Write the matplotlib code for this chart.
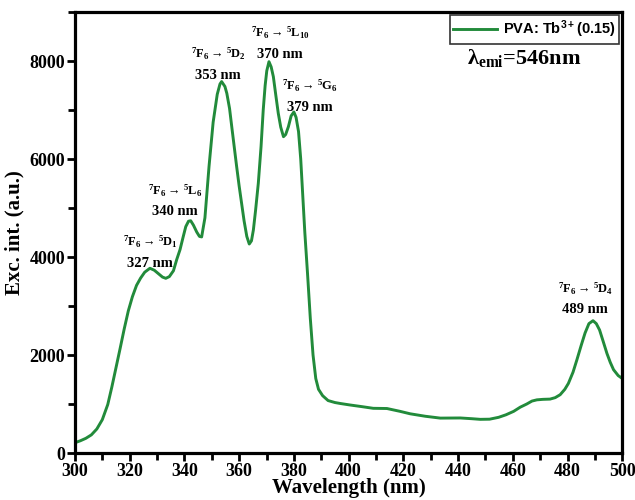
import matplotlib
matplotlib.use('Agg')
import matplotlib.pyplot as plt
from matplotlib.ticker import MultipleLocator

plt.rcParams['font.family'] = ['Liberation Serif', 'DejaVu Serif']
plt.rcParams['font.weight'] = 'bold'
plt.rcParams['mathtext.default'] = 'regular'

# excitation spectrum
wavelength = [300, 302, 304, 306, 308, 310, 312, 313.5, 315, 316.5, 318, 319.5, 321,
              322.5, 324, 325.5, 327.4, 329, 330.5, 332, 333.2, 334.5, 336, 337.2,
              338.4, 339.5, 340.5, 341.5, 342.3, 343.3, 344.5, 345.5, 346.3, 347.5,
              349, 350.5, 352, 353, 353.6, 354.8, 355.5, 356.5, 357.3, 358.2, 359.1,
              360, 360.9, 361.8, 362.8, 363.7, 364.5, 365.2, 366, 367, 368, 368.8,
              369.5, 370.1, 370.9, 371.7, 372.5, 373.4, 374.3, 375.2, 376.2, 377,
              378, 379, 380, 380.8, 381.7, 382.5, 383.3, 384, 385, 386, 387, 388,
              389, 390.5, 392.5, 395, 397, 400.5, 405, 409, 414, 418.8, 422.5, 428,
              433.5, 440.8, 445, 448.1, 451.5, 454.8, 457.5, 460.3, 462.7, 465.1,
              467, 468.8, 471, 473.6, 475.5, 477.3, 479, 480.3, 482, 483.4, 485,
              486.4, 487.8, 489.3, 490.5, 491.7, 493, 494.4, 495.6, 496.8, 498.5, 500]
intensity = [210, 250, 300, 370, 490, 680, 990, 1350, 1740, 2130, 2530, 2900, 3190,
             3420, 3570, 3690, 3770, 3730, 3660, 3590, 3565, 3600, 3720, 3950,
             4150, 4400, 4620, 4730, 4740, 4650, 4510, 4420, 4410, 4800,
             5850, 6750, 7320, 7530, 7580, 7480, 7340, 7030, 6660, 6250, 5840,
             5450, 5095, 4740, 4420, 4265, 4330, 4551, 4950, 5503, 6250, 7000,
             7500, 7800, 7986, 7880, 7680, 7300, 6932, 6650, 6455, 6500,
             6660, 6880, 6960, 6850, 6560, 6000, 5200, 4500, 3650, 2750, 2000, 1520,
             1300, 1170, 1070, 1030, 1010, 980, 945, 912, 908, 850, 800, 750,
             712, 715, 700, 687, 690, 728, 780, 850, 935, 1000,
             1060, 1085, 1095, 1100, 1130, 1190, 1300, 1420, 1650, 1900, 2200,
             2450, 2640, 2700, 2640, 2510, 2280, 2030, 1850, 1700, 1580, 1520]

peak_nm = [327, 340, 353, 370, 379, 489]
peak_label_x = [327.4, 336.6, 352.3, 375.0, 385.9, 486.5]
peak_label_y = [3860, 4920, 7710, 8140, 7060, 2920]
final_states = ['D$_1$', 'L$_6$', 'D$_2$', 'L$_{10}$', 'G$_6$', 'D$_4$']

fig = plt.figure(figsize=(6.35, 5.0), dpi=100)
ax = fig.add_axes([0.118, 0.094, 0.862, 0.882])

ax.plot(wavelength, intensity, color='#228b3b', lw=2.1, label='PVA: Tb$^{3+}$(0.15)')

ax.set_xlim(300, 500)
ax.set_ylim(0, 9000)
ax.xaxis.set_major_locator(MultipleLocator(20))
ax.xaxis.set_minor_locator(MultipleLocator(10))
ax.yaxis.set_major_locator(MultipleLocator(2000))
ax.yaxis.set_minor_locator(MultipleLocator(1000))
ax.tick_params(which='both', direction='out', width=2, top=False, right=False,
               labelsize=13, pad=1)
ax.tick_params(which='major', length=6)
ax.tick_params(which='minor', length=5)
for s in ax.spines.values():
    s.set_linewidth(2.3)

ax.set_xlabel('Wavelength (nm)', fontsize=15, fontweight='bold', labelpad=-1)
ax.set_ylabel('Exc. int. (a.u.)', fontsize=15, fontweight='bold', labelpad=4)

for nm, lx, ly, st in zip(peak_nm, peak_label_x, peak_label_y, final_states):
    ax.text(lx, ly, '%d nm' % nm, ha='center', va='center', fontsize=10.5,
            fontweight='bold')
    ax.text(lx, ly + 440, '$^7$F$_6$$\\rightarrow$$^5$' + st, ha='center',
            va='center', fontsize=9, fontweight='bold')

leg = ax.legend(loc='upper right', fancybox=False, frameon=True, borderpad=0.25,
                handlelength=3, borderaxespad=0.2, handletextpad=0.4,
                prop={'family': 'Liberation Sans', 'weight': 'bold', 'size': 10.5})
leg.get_frame().set_edgecolor('black')
leg.get_frame().set_linewidth(1.2)

ax.text(0.82, 0.896, 'λ$_{emi}$=546nm', transform=ax.transAxes, ha='center',
        va='center', fontsize=16, fontweight='bold')

fig.savefig('out.png', dpi=100)
